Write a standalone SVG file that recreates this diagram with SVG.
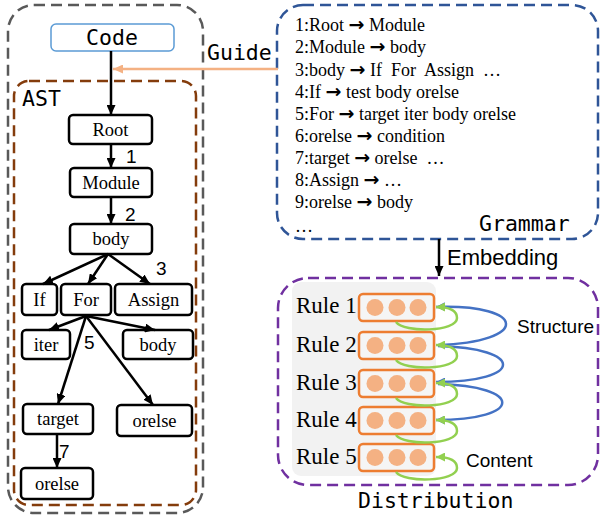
<svg xmlns="http://www.w3.org/2000/svg" width="600" height="517" viewBox="0 0 600 517">
  <style>
    .mono { font-family: "DejaVu Sans Mono", "Liberation Mono", monospace; font-size: 21.5px; fill: #000; }
    .serif { font-family: "Liberation Serif", "Times New Roman", serif; fill: #000; }
    .node rect { fill: #fff; stroke: #000; stroke-width: 2.5; }
    .node text { font-family: "Liberation Serif", "Times New Roman", serif; font-size: 18.5px; text-anchor: middle; }
    .num { font-family: "Liberation Sans", Arial, sans-serif; font-size: 19px; }
    .sans { font-family: "Liberation Sans", Arial, sans-serif; fill: #000; }
    .edge { stroke: #000; stroke-width: 2.5; fill: none; marker-end: url(#ah); }
    .g { font-family: "Liberation Serif", "Times New Roman", serif; font-size: 18px; white-space: pre; }
    .ar { font-family: "DejaVu Sans", sans-serif; font-weight: bold; font-size: 19px; }
    .vec rect { fill: #f5f5f5; stroke: #ed7d31; stroke-width: 2.5; }
    .vec circle { fill: #f4b183; }
    .rule { font-family: "Liberation Serif", "Times New Roman", serif; font-size: 23px; }
    .green { stroke: #92d050; stroke-width: 2.5; fill: none; marker-end: url(#ahg); }
    .blue { stroke: #4472c4; stroke-width: 2.5; fill: none; marker-end: url(#ahb); }
  </style>
  <defs>
    <marker id="ah" markerUnits="userSpaceOnUse" markerWidth="10" markerHeight="9" refX="10" refY="4.5" orient="auto">
      <path d="M0,0 L10,4.5 L0,9 z" fill="#000"/>
    </marker>
    <marker id="aho" markerUnits="userSpaceOnUse" markerWidth="10" markerHeight="9" refX="10" refY="4.5" orient="auto">
      <path d="M0,0 L10,4.5 L0,9 z" fill="#f4b183"/>
    </marker>
    <marker id="ahg" markerUnits="userSpaceOnUse" markerWidth="9" markerHeight="9" refX="9" refY="4.5" orient="auto">
      <path d="M0,0 L9,4.5 L0,9 z" fill="#92d050"/>
    </marker>
    <marker id="ahb" markerUnits="userSpaceOnUse" markerWidth="9" markerHeight="9" refX="9" refY="4.5" orient="auto">
      <path d="M0,0 L9,4.5 L0,9 z" fill="#4472c4"/>
    </marker>
  </defs>

  <!-- container frames -->
  <g id="frames" fill="none" stroke-width="2.5" stroke-dasharray="11 6">
    <rect x="8" y="5" width="195" height="508" rx="26" stroke="#595959"/>
    <rect x="14" y="81" width="182" height="424" rx="15" stroke="#843c0c"/>
    <rect x="277" y="5" width="321" height="234" rx="26" stroke="#2f5597"/>
    <rect x="278" y="278" width="320" height="207" rx="30" stroke="#7030a0"/>
  </g>

  <!-- section titles -->
  <text class="mono" x="22" y="106">AST</text>
  <text class="mono" x="207" y="60">Guide</text>
  <text class="mono" x="479" y="231">Grammar</text>
  <text class="mono" x="358" y="508">Distribution</text>
  <text class="sans" x="447" y="265" font-size="22">Embedding</text>

  <!-- Code source -->
  <g id="code">
    <rect x="51" y="24" width="123" height="27" rx="5" fill="#fff" stroke="#5b9bd5" stroke-width="1.5"/>
    <text class="mono" x="112" y="45" text-anchor="middle">Code</text>
  </g>

  <!-- AST nodes -->
  <g id="root" class="node"><rect x="69" y="115" width="83" height="29" rx="4"/><text x="110.5" y="136">Root</text></g>
  <g id="module" class="node"><rect x="70" y="168" width="82" height="29" rx="4"/><text x="111" y="189">Module</text></g>
  <g id="body" class="node"><rect x="70" y="224" width="82" height="30" rx="4"/><text x="111" y="245">body</text></g>
  <g id="if" class="node"><rect x="22" y="284" width="35" height="31" rx="4"/><text x="39.5" y="306">If</text></g>
  <g id="for" class="node"><rect x="61" y="284" width="50" height="31" rx="4"/><text x="86" y="306">For</text></g>
  <g id="assign" class="node"><rect x="115" y="284" width="77" height="31" rx="4"/><text x="153.5" y="306">Assign</text></g>
  <g id="iter" class="node"><rect x="22" y="330" width="48" height="29" rx="4"/><text x="46" y="351">iter</text></g>
  <g id="for-body" class="node"><rect x="123" y="330" width="70" height="29" rx="4"/><text x="158" y="351">body</text></g>
  <g id="target" class="node"><rect x="23" y="404" width="70" height="30" rx="4"/><text x="58" y="425">target</text></g>
  <g id="for-orelse" class="node"><rect x="117" y="405" width="75" height="31" rx="4"/><text x="154.5" y="427">orelse</text></g>
  <g id="target-orelse" class="node"><rect x="21" y="468" width="72" height="31" rx="4"/><text x="57" y="490">orelse</text></g>

  <!-- connectors -->
  <g id="connectors">
    <line class="edge" x1="111" y1="51" x2="111" y2="115"/>
    <line x1="278" y1="69" x2="113" y2="69" stroke="#f4b183" stroke-width="2.5" marker-end="url(#aho)"/>
    <line class="edge" x1="111" y1="144" x2="111" y2="168"/>
    <line class="edge" x1="111" y1="197" x2="111" y2="224"/>
    <line class="edge" x1="108" y1="254" x2="43" y2="284"/>
    <line class="edge" x1="108" y1="254" x2="88" y2="284"/>
    <line class="edge" x1="108" y1="254" x2="150" y2="284"/>
    <line class="edge" x1="86" y1="316" x2="49" y2="330"/>
    <line class="edge" x1="86" y1="316" x2="155" y2="330"/>
    <line class="edge" x1="86" y1="316" x2="58" y2="404"/>
    <line class="edge" x1="86" y1="316" x2="153" y2="405"/>
    <line class="edge" x1="57" y1="434" x2="57" y2="468"/>
    <line class="edge" x1="439" y1="239" x2="439" y2="276"/>
  </g>

  <!-- rule numbers on AST edges -->
  <text class="num" x="126" y="163">1</text>
  <text class="num" x="125" y="221">2</text>
  <text class="num" x="156" y="275">3</text>
  <text class="num" x="84" y="349">5</text>
  <text class="num" x="59" y="458">7</text>

  <!-- grammar rules -->
  <g id="grammar" xml:space="preserve">
    <text class="g" x="295" y="31">1:Root <tspan class="ar">→</tspan> Module</text>
    <text class="g" x="295" y="53">2:Module <tspan class="ar">→</tspan> body</text>
    <text class="g" x="295" y="76">3:body <tspan class="ar">→</tspan> If  For  Assign  …</text>
    <text class="g" x="295" y="98">4:If <tspan class="ar">→</tspan> test body orelse</text>
    <text class="g" x="295" y="120">5:For <tspan class="ar">→</tspan> target iter body orelse</text>
    <text class="g" x="295" y="142">6:orelse <tspan class="ar">→</tspan> condition</text>
    <text class="g" x="295" y="164">7:target <tspan class="ar">→</tspan> orelse  …</text>
    <text class="g" x="295" y="186">8:Assign <tspan class="ar">→</tspan> …</text>
    <text class="g" x="295" y="208">9:orelse <tspan class="ar">→</tspan> body</text>
    <text class="g" x="295" y="232">…</text>
  </g>

  <!-- rule embeddings -->
  <rect x="292" y="282" width="144" height="194" rx="9" fill="#f2f2f2"/>
  <g id="rule1" class="vec"><text class="rule" x="296" y="313">Rule 1</text><rect x="359" y="294" width="75" height="27" rx="4"/><circle cx="375" cy="307.5" r="8.5"/><circle cx="397" cy="307.5" r="8.5"/><circle cx="418" cy="307.5" r="8.5"/></g>
  <g id="rule2" class="vec"><text class="rule" x="296" y="352">Rule 2</text><rect x="359" y="332" width="75" height="27" rx="4"/><circle cx="375" cy="345.5" r="8.5"/><circle cx="397" cy="345.5" r="8.5"/><circle cx="418" cy="345.5" r="8.5"/></g>
  <g id="rule3" class="vec"><text class="rule" x="296" y="390">Rule 3</text><rect x="359" y="370" width="75" height="27" rx="4"/><circle cx="375" cy="383.5" r="8.5"/><circle cx="397" cy="383.5" r="8.5"/><circle cx="418" cy="383.5" r="8.5"/></g>
  <g id="rule4" class="vec"><text class="rule" x="296" y="427">Rule 4</text><rect x="359" y="407" width="75" height="27" rx="4"/><circle cx="375" cy="420.5" r="8.5"/><circle cx="397" cy="420.5" r="8.5"/><circle cx="418" cy="420.5" r="8.5"/></g>
  <g id="rule5" class="vec"><text class="rule" x="296" y="464">Rule 5</text><rect x="359" y="444" width="75" height="27" rx="4"/><circle cx="375" cy="457.5" r="8.5"/><circle cx="397" cy="457.5" r="8.5"/><circle cx="418" cy="457.5" r="8.5"/></g>

  <!-- structure / content links -->
  <g id="links">
    <path class="blue" d="M438,345 C530,342 528,304 436,307"/>
    <path class="blue" d="M438,346 C525,348 525,382 436,382"/>
    <path class="blue" d="M438,384 C524,386 524,420 436,420"/>
    <path class="green" d="M396,322 C404,333 457,332 457,318 C457,310 449,307 436,307"/>
    <path class="green" d="M396,360 C404,371 457,370 457,356 C457,348 449,345 436,345"/>
    <path class="green" d="M396,398 C404,409 457,408 457,394 C457,386 449,383 436,383"/>
    <path class="green" d="M396,435 C404,446 457,445 457,431 C457,423 449,420 436,420"/>
    <path class="green" d="M396,472 C404,483 457,482 457,468 C457,460 449,457 436,457"/>
  </g>
  <text class="sans" x="517" y="333" font-size="19">Structure</text>
  <text class="sans" x="466" y="467" font-size="19">Content</text>
</svg>
